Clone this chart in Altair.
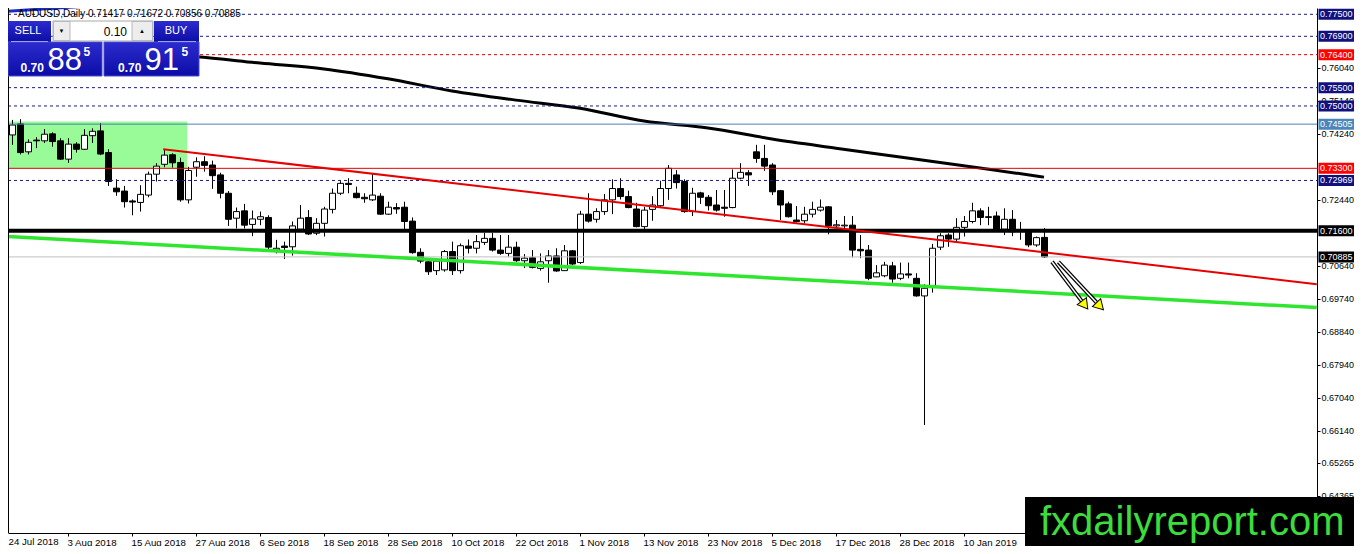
import altair as alt
import pandas as pd

# ---------------- data ----------------
OPEN = [0.7382, 0.7421, 0.7451, 0.7375, 0.7407, 0.7405, 0.7424, 0.7405, 0.7355, 0.7396,
        0.7382, 0.7419, 0.7432, 0.7373, 0.7276, 0.7268, 0.7241, 0.7237, 0.7257, 0.7314,
        0.7341, 0.7367, 0.7346, 0.7244, 0.7333, 0.7348, 0.7339, 0.7312, 0.7262, 0.7194,
        0.7214, 0.7177, 0.7191, 0.7196, 0.7107, 0.7118, 0.7116, 0.7164, 0.7196, 0.7153,
        0.7180, 0.7218, 0.7262, 0.7289, 0.7262, 0.7251, 0.7244, 0.7254, 0.7205, 0.7223,
        0.7224, 0.7186, 0.7101, 0.7075, 0.7051, 0.7053, 0.7103, 0.7051, 0.7118, 0.7112,
        0.7128, 0.7139, 0.7107, 0.7098, 0.7115, 0.7078, 0.7086, 0.7057, 0.7078, 0.7091,
        0.7051, 0.7105, 0.7073, 0.7205, 0.7191, 0.7212, 0.7244, 0.7275, 0.7253, 0.7219,
        0.7171, 0.7218, 0.7228, 0.7275, 0.7312, 0.7294, 0.7212, 0.7263, 0.7251, 0.7230,
        0.7224, 0.7223, 0.7303, 0.7318, 0.7375, 0.7357, 0.7339, 0.7269, 0.7233, 0.7189,
        0.7187, 0.7205, 0.7216, 0.7225, 0.7173, 0.7173, 0.7175, 0.7109, 0.7107, 0.7034,
        0.7037, 0.7064, 0.7030, 0.7042, 0.7030, 0.6982, 0.7007, 0.7115, 0.7148, 0.7137,
        0.7169, 0.7185, 0.7214, 0.7198, 0.7200, 0.7164, 0.7191, 0.7162, 0.7157, 0.7121,
        0.71417]
HIGH = [0.7432, 0.7462, 0.7464, 0.7409, 0.7415, 0.7437, 0.7428, 0.7412, 0.7412, 0.7401,
        0.7437, 0.7439, 0.7453, 0.7382, 0.7300, 0.7282, 0.7245, 0.7284, 0.7321, 0.7344,
        0.7380, 0.7371, 0.7359, 0.7334, 0.7360, 0.7363, 0.7351, 0.7318, 0.7268, 0.7223,
        0.7233, 0.7215, 0.7212, 0.7202, 0.7135, 0.7130, 0.7185, 0.7230, 0.7216, 0.7194,
        0.7225, 0.7275, 0.7295, 0.7303, 0.7280, 0.7262, 0.7316, 0.7262, 0.7239, 0.7235,
        0.7239, 0.7196, 0.7112, 0.7080, 0.7085, 0.7107, 0.7130, 0.7125, 0.7136, 0.7148,
        0.7154, 0.7154, 0.7148, 0.7148, 0.7130, 0.7096, 0.7107, 0.7098, 0.7107, 0.7112,
        0.7121, 0.7107, 0.7214, 0.7262, 0.7221, 0.7260, 0.7300, 0.7303, 0.7269, 0.7236,
        0.7225, 0.7254, 0.7296, 0.7339, 0.7325, 0.7300, 0.7277, 0.7266, 0.7257, 0.7271,
        0.7271, 0.7327, 0.7344, 0.7325, 0.7394, 0.7394, 0.7344, 0.7271, 0.7239, 0.7227,
        0.7225, 0.7239, 0.7245, 0.7227, 0.7189, 0.7200, 0.7200, 0.7148, 0.7121, 0.7066,
        0.7075, 0.7075, 0.7073, 0.7073, 0.7044, 0.7014, 0.7124, 0.7153, 0.7153, 0.7194,
        0.7200, 0.7236, 0.7221, 0.7225, 0.7212, 0.7221, 0.7216, 0.7184, 0.7162, 0.7144,
        0.71672]
LOW = [0.7375, 0.7394, 0.7368, 0.7368, 0.7385, 0.7399, 0.7389, 0.7353, 0.7345, 0.7373,
       0.7380, 0.7399, 0.7366, 0.7282, 0.7255, 0.7223, 0.7202, 0.7212, 0.7251, 0.7294,
       0.7333, 0.7332, 0.7239, 0.7234, 0.7307, 0.7321, 0.7274, 0.7248, 0.7173, 0.7166,
       0.7166, 0.7145, 0.7175, 0.7102, 0.7098, 0.7083, 0.7092, 0.7162, 0.7148, 0.7148,
       0.7144, 0.7207, 0.7257, 0.7262, 0.7248, 0.7236, 0.7241, 0.7203, 0.7203, 0.7206,
       0.7162, 0.7097, 0.7071, 0.7039, 0.7039, 0.7048, 0.7039, 0.7043, 0.7098, 0.7098,
       0.7121, 0.7103, 0.7094, 0.7089, 0.7075, 0.7058, 0.7057, 0.7051, 0.7018, 0.7048,
       0.7050, 0.7066, 0.7069, 0.7182, 0.7182, 0.7203, 0.7205, 0.7245, 0.7221, 0.7169,
       0.7164, 0.7187, 0.7225, 0.7244, 0.7275, 0.7209, 0.7200, 0.7233, 0.7215, 0.7212,
       0.7198, 0.7221, 0.7300, 0.7282, 0.7345, 0.7323, 0.7257, 0.7189, 0.7196, 0.7182,
       0.7180, 0.7196, 0.7212, 0.7150, 0.7169, 0.7166, 0.7087, 0.7085, 0.7025, 0.7033,
       0.7033, 0.7018, 0.7025, 0.7030, 0.6980, 0.6630, 0.6991, 0.7107, 0.7116, 0.7130,
       0.7144, 0.7180, 0.7175, 0.7175, 0.7157, 0.7148, 0.7145, 0.7135, 0.7115, 0.7116,
       0.70856]
CLOSE = [0.7415, 0.7448, 0.7373, 0.7401, 0.7405, 0.7423, 0.7403, 0.7355, 0.7396, 0.7382,
         0.7420, 0.7431, 0.7369, 0.7294, 0.7266, 0.7239, 0.7238, 0.7259, 0.7314, 0.7336,
         0.7366, 0.7345, 0.7244, 0.7324, 0.7348, 0.7338, 0.7310, 0.7262, 0.7191, 0.7212,
         0.7175, 0.7192, 0.7198, 0.7115, 0.7112, 0.7114, 0.7173, 0.7194, 0.7151, 0.7180,
         0.7219, 0.7262, 0.7289, 0.7286, 0.7250, 0.7247, 0.7257, 0.7205, 0.7224, 0.7219,
         0.7185, 0.7100, 0.7077, 0.7048, 0.7077, 0.7103, 0.7051, 0.7119, 0.7112, 0.7130,
         0.7139, 0.7107, 0.7098, 0.7115, 0.7078, 0.7085, 0.7060, 0.7075, 0.7091, 0.7050,
         0.7105, 0.7069, 0.7205, 0.7186, 0.7212, 0.7244, 0.7275, 0.7253, 0.7223, 0.7171,
         0.7216, 0.7230, 0.7275, 0.7330, 0.7291, 0.7212, 0.7262, 0.7251, 0.7228, 0.7216,
         0.7221, 0.7303, 0.7319, 0.7312, 0.7357, 0.7336, 0.7266, 0.7230, 0.7198, 0.7185,
         0.7205, 0.7218, 0.7224, 0.7173, 0.7176, 0.7175, 0.7107, 0.7105, 0.7030, 0.7045,
         0.7066, 0.7028, 0.7042, 0.7039, 0.6982, 0.7003, 0.7112, 0.7146, 0.7137, 0.7169,
         0.7185, 0.7214, 0.7196, 0.7196, 0.7164, 0.7191, 0.7157, 0.7161, 0.7121, 0.7141,
         0.70885]

TICK_LABELS = ["24 Jul 2018", "3 Aug 2018", "15 Aug 2018", "27 Aug 2018", "6 Sep 2018",
               "18 Sep 2018", "28 Sep 2018", "10 Oct 2018", "22 Oct 2018", "1 Nov 2018",
               "13 Nov 2018", "23 Nov 2018", "5 Dec 2018", "17 Dec 2018", "28 Dec 2018",
               "10 Jan 2019"]
BARS_PER_LABEL = 8

PRICE_TICKS = [0.7604, 0.7514, 0.7424, 0.7244, 0.7064, 0.6974, 0.6884, 0.6794,
               0.6704, 0.6614, 0.65265, 0.64365]

LEVELS = [0.77500, 0.76900, 0.76400, 0.75500, 0.75000, 0.74505, 0.73300, 0.72969, 0.71600, 0.70885]
LEVEL_KIND = ["navy", "navy", "reddash", "navy", "navy", "steel", "red", "navy", "black", "bid"]

MA_IDX = [20, 24, 32, 40, 48, 56, 64, 72, 80, 88, 96, 104, 112, 122, 130]
MA_VAL = [0.7639, 0.7634, 0.7617, 0.7601, 0.7574, 0.7541, 0.7516, 0.7494, 0.7459,
          0.7440, 0.7410, 0.7385, 0.7361, 0.7331, 0.7306]

BLUE_IDX = [-0.5, 15.75]
BLUE_VAL = [0.7757, 0.7780]

RED_TL_IDX = [19.9, 164.1]
RED_TL_VAL = [0.7382, 0.7014]
GREEN_TL_IDX = [-0.5, 164.1]
GREEN_TL_VAL = [0.71454, 0.69502]

ZONE_IDX = [-1.0, 22.9]
ZONE_VAL = [0.7331, 0.7458]

ARROW_FROM_IDX = [131.0, 131.8]
ARROW_FROM_VAL = [0.7075, 0.7075]
ARROW_TO_IDX = [135.1, 137.0]
ARROW_TO_VAL = [0.6957, 0.6954]
ARROW_ANGLE = [143, 136]

HEADER = "AUDUSD,Daily  0.71417 0.71672 0.70856 0.70885"

# ---------------- styles ----------------
W, H = 1309, 525
FONT = "Liberation Sans"
XS = alt.Scale(domain=[0.5, 164.125], nice=False, zero=False)
YS = alt.Scale(domain=[0.63355, 0.77672], nice=False, zero=False)

STYLE = {
    "navy":    dict(color="#1A1A8C", width=1, dash=[3, 3], box="#10107F"),
    "reddash": dict(color="#E00000", width=1, dash=[3, 3], box="#FF0000"),
    "steel":   dict(color="#4682B4", width=1, dash=None, box="#4A86BA"),
    "red":     dict(color="#E00000", width=1, dash=None, box="#FF0000"),
    "black":   dict(color="#000000", width=4, dash=None, box="#000000"),
    "bid":     dict(color="#C0C0C0", width=1, dash=None, box="#000000"),
}

candles = pd.DataFrame({"idx": list(range(len(OPEN))), "open": OPEN, "high": HIGH,
                        "low": LOW, "close": CLOSE})

one = alt.Data(values=[{"a": 1}])


def X(field):
    return alt.X(field, scale=XS, title=None)


def Y(field):
    return alt.Y(field, scale=YS, title=None)


def prect(x1, x2, y1, y2, fill, stroke=None, sw=1):
    kw = dict(fill=fill)
    if stroke:
        kw.update(stroke=stroke, strokeWidth=sw)
    return alt.Chart(one).mark_rect(**kw).encode(
        x=alt.value(x1), x2=alt.value(x2), y=alt.value(y1), y2=alt.value(y2))


def ptext(x, y, s, size, color="white", align="left", weight="normal", baseline="alphabetic"):
    return alt.Chart(one).mark_text(text=s, font=FONT, fontSize=size, color=color,
                                    align=align, fontWeight=weight, baseline=baseline).encode(
        x=alt.value(x), y=alt.value(y))


layers = []

# candle wicks carry the axes
label_expr = "[" + ",".join("'%s'" % s for s in TICK_LABELS) + "][round(datum.value/%d)]" % BARS_PER_LABEL
wick = alt.Chart(candles).mark_rule(color="black", strokeWidth=1, xOffset=0.5, clip=True).encode(
    x=alt.X("idx:Q", scale=XS, title=None, axis=alt.Axis(
        orient="bottom", values=[BARS_PER_LABEL * k for k in range(1, len(TICK_LABELS))],
        labelExpr=label_expr, labelAlign="left", labelBaseline="top", labelPadding=1,
        labelOffset=-1, labelFont=FONT, labelFontSize=9.7, labelColor="black",
        tickSize=3, tickColor="black", domainColor="black", grid=False, labelOverlap=False,
        labelFlush=False)),
    y=alt.Y("low:Q", scale=YS, title=None, axis=alt.Axis(
        orient="right", values=PRICE_TICKS, format=".5f", labelFont=FONT, labelFontSize=9,
        labelColor="black", labelPadding=1, tickSize=3, tickColor="black",
        domainColor="black", grid=False, labelOverlap=False, labelFlush=False)),
    y2="high:Q")

# green zone (background)
zone = pd.DataFrame({"x1": [ZONE_IDX[0]], "x2": [ZONE_IDX[1]], "y1": [ZONE_VAL[0]], "y2": [ZONE_VAL[1]]})
layers.append(alt.Chart(zone).mark_rect(color="#98FB98", clip=True).encode(
    x=X("x1:Q"), x2="x2:Q", y=Y("y1:Q"), y2="y2:Q"))

# moving averages
layers.append(alt.Chart(pd.DataFrame({"i": BLUE_IDX, "v": BLUE_VAL})).mark_line(
    color="#1C2CC0", strokeWidth=3, clip=True).encode(x=X("i:Q"), y=Y("v:Q")))
layers.append(alt.Chart(pd.DataFrame({"i": MA_IDX, "v": MA_VAL})).mark_line(
    color="black", strokeWidth=3, clip=True, interpolate="monotone").encode(x=X("i:Q"), y=Y("v:Q")))

layers.append(wick)
layers.append(alt.Chart(candles).transform_calculate(
    top="max(datum.open, datum.close)", bot="min(datum.open, datum.close)",
    xl="datum.idx - 0.3125", xr="datum.idx + 0.4375").mark_rect(
    stroke="black", strokeWidth=1, clip=True).encode(
    x=X("xl:Q"), x2="xr:Q", y=Y("top:Q"), y2="bot:Q",
    fill=alt.condition("datum.close >= datum.open", alt.value("white"), alt.value("black"))))

# horizontal levels
for lv, kind in zip(LEVELS, LEVEL_KIND):
    st = STYLE[kind]
    kw = dict(color=st["color"], strokeWidth=st["width"])
    if st["dash"]:
        kw["strokeDash"] = st["dash"]
    layers.append(alt.Chart(pd.DataFrame({"p": [lv]})).mark_rule(**kw).encode(
        x=alt.value(0), x2=alt.value(W), y=Y("p:Q")))

# trend lines
layers.append(alt.Chart(pd.DataFrame({"i": RED_TL_IDX, "v": RED_TL_VAL})).mark_line(
    color="#E60000", strokeWidth=2, clip=True).encode(x=X("i:Q"), y=Y("v:Q")))
layers.append(alt.Chart(pd.DataFrame({"i": GREEN_TL_IDX, "v": GREEN_TL_VAL})).mark_line(
    color="#2EE62E", strokeWidth=3.5, clip=True).encode(x=X("i:Q"), y=Y("v:Q")))

# arrows
arr = pd.DataFrame({"i0": ARROW_FROM_IDX, "p0": ARROW_FROM_VAL, "i1": ARROW_TO_IDX,
                    "p1": ARROW_TO_VAL, "ang": ARROW_ANGLE})
for col, sw in (("black", 4), ("white", 1.5)):
    layers.append(alt.Chart(arr).mark_rule(color=col, strokeWidth=sw).encode(
        x=X("i0:Q"), y=Y("p0:Q"), x2="i1:Q", y2="p1:Q"))
layers.append(alt.Chart(arr).mark_point(shape="triangle-up", filled=True, fill="#FFFF00",
                                        stroke="black", strokeWidth=1, size=130, opacity=1).encode(
    x=X("i1:Q"), y=Y("p1:Q"), angle=alt.Angle("ang:Q", scale=None)))

# left frame
layers.append(alt.Chart(one).mark_rule(color="black", strokeWidth=1).encode(
    x=alt.value(0.5), y=alt.value(0), y2=alt.value(H)))

# trade panel
grad = alt.Gradient(gradient="linear", x1=0, x2=0, y1=0, y2=1,
                    stops=[alt.GradientStop(color="#2C2CCF", offset=0),
                           alt.GradientStop(color="#0C0CA6", offset=1)])
layers += [
    prect(0, 43, 13, 34, grad),
    prect(0, 94, 34, 68, grad, "#4A4AD6"),
    prect(146, 191, 13, 34, grad),
    prect(96, 191, 34, 68, grad, "#4A4AD6"),
    prect(45, 145, 13, 33, "white", "#A8A8A8"),
    prect(45.5, 62, 13.5, 32.5, "#EDEDED", "#B8B8B8"),
    prect(124, 144.5, 13.5, 32.5, "#EDEDED", "#B8B8B8"),
    prect(3, 40, 33, 34, "#9AA2F2"),
    prect(150, 188, 33, 34, "#9AA2F2"),
    ptext(20, 23, "SELL", 11, align="center", baseline="middle"),
    ptext(168, 23, "BUY", 11, align="center", baseline="middle"),
    ptext(119, 23.5, "0.10", 12, color="black", align="right", baseline="middle"),
    ptext(53.5, 23, "▼", 6, color="black", align="center", baseline="middle"),
    ptext(134, 23, "▲", 6, color="black", align="center", baseline="middle"),
    ptext(12.5, 63.5, "0.70", 12, weight="bold"),
    ptext(39.5, 62, "88", 31),
    ptext(75.5, 47.5, "5", 12, weight="bold"),
    ptext(110, 63.5, "0.70", 12, weight="bold"),
    ptext(136.5, 62, "91", 31),
    ptext(173.5, 47.5, "5", 12, weight="bold"),
    ptext(10, 5.5, HEADER, 10, color="black", baseline="middle"),
]

# first date label (its bar sits at the clipped left edge)
layers.append(ptext(0.5, H + 4, TICK_LABELS[0], 9.7, color="black", baseline="top"))

# price boxes on the right axis
lv_df = pd.DataFrame({"p": LEVELS, "box": [STYLE[k]["box"] for k in LEVEL_KIND]})
layers.append(alt.Chart(lv_df).mark_rect(yOffset=-5.5, y2Offset=5.5).encode(
    x=alt.value(W + 1.5), x2=alt.value(W + 37), y=Y("p:Q"), y2="p:Q",
    color=alt.Color("box:N", scale=None)))
layers.append(alt.Chart(lv_df).mark_text(align="left", baseline="middle", font=FONT,
                                         fontSize=9, color="white").encode(
    x=alt.value(W + 3), y=Y("p:Q"), text=alt.Text("p:Q", format=".5f")))

# logo
layers.append(prect(1017, 1346, 489, 538, "black"))
layers.append(ptext(1032, 527, "fxdailyreport.com", 40, color="#3CDC3C"))

chart = alt.layer(*layers).properties(
    width=W, height=H,
    padding={"left": 0, "top": 0, "right": 37, "bottom": 13},
    autosize=alt.AutoSizeParams(type="none"),
    background="white",
).configure_view(stroke=None).configure_axis(grid=False)

chart.save("out.html", embed_options={"renderer": "svg", "actions": False})
